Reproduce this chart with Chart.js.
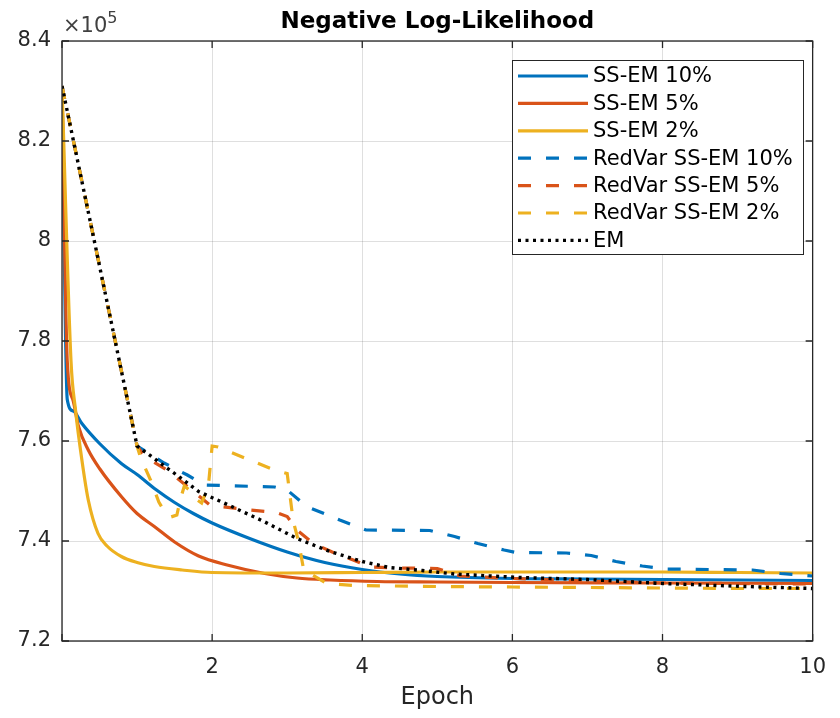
<!DOCTYPE html>
<html>
<head>
<meta charset="utf-8">
<script src="https://cdn.jsdelivr.net/npm/chart.js@4.4.1/dist/chart.umd.min.js"></script>
<style>
  body { margin: 0; background: #fff; }
  canvas { display: block; }
</style>
</head>
<body>
<canvas id="nllChart" width="840" height="718"></canvas>
<script>
// values are in units of 1e5 (the axis shows "x10^5")
const xTicks = [0, 2, 4, 6, 8, 10];
const yTicks = [7.2, 7.4, 7.6, 7.8, 8.0, 8.2, 8.4];

const ssEm10X = [0, 0.07, 0.15, 0.265, 0.5, 0.79, 1.0, 1.25, 1.5, 1.75, 2.0, 2.5, 3.0, 3.5, 4.0, 4.5, 5, 6, 7, 8, 9, 10];
const ssEm10Y = [8.31, 7.683, 7.66, 7.635, 7.595, 7.555, 7.533, 7.503, 7.477, 7.455, 7.436, 7.405, 7.378, 7.357, 7.343, 7.334, 7.329, 7.325, 7.324, 7.323, 7.322, 7.321];

const ssEm5X = [0, 0.07, 0.15, 0.22, 0.35, 0.5, 0.79, 1.0, 1.23, 1.5, 1.82, 2.2, 2.7, 3.13, 3.57, 4.2, 5, 6, 8, 10];
const ssEm5Y = [8.31, 7.76, 7.68, 7.629, 7.582, 7.545, 7.489, 7.455, 7.429, 7.398, 7.37, 7.352, 7.335, 7.326, 7.322, 7.319, 7.318, 7.317, 7.316, 7.315];

const ssEm2X = [0, 0.12, 0.18, 0.265, 0.35, 0.48, 0.6, 0.79, 1.0, 1.23, 1.6, 2.0, 3, 4, 5, 6, 7, 8, 9, 10];
const ssEm2Y = [8.31, 7.76, 7.662, 7.562, 7.482, 7.415, 7.39, 7.369, 7.357, 7.349, 7.342, 7.337, 7.336, 7.337, 7.338, 7.338, 7.338, 7.338, 7.337, 7.336];

const redVar10X = [0, 1, 1.36, 1.67, 1.9, 2.83, 3.0, 3.26, 3.7, 4.05, 4.9, 5.23, 5.54, 5.89, 6.05, 6.72, 7.05, 7.38, 7.73, 8.03, 9.2, 9.57, 10];
const redVar10Y = [8.31, 7.59, 7.556, 7.532, 7.512, 7.508, 7.502, 7.469, 7.442, 7.422, 7.421, 7.409, 7.395, 7.382, 7.377, 7.376, 7.371, 7.359, 7.35, 7.344, 7.342, 7.335, 7.33];

const redVar5X = [0, 1, 1.1, 1.4, 1.67, 1.97, 2.1, 2.5, 2.85, 3.0, 3.13, 3.35, 3.6, 3.88, 4.1, 4.5, 5.0, 5.3, 6, 7, 8, 9, 10];
const redVar5Y = [8.31, 7.59, 7.569, 7.542, 7.509, 7.472, 7.469, 7.462, 7.457, 7.449, 7.422, 7.395, 7.378, 7.362, 7.348, 7.346, 7.345, 7.33, 7.325, 7.32, 7.316, 7.315, 7.314];

const redVar2X = [0, 1.0, 1.05, 1.18, 1.29, 1.38, 1.45, 1.53, 1.58, 1.63, 1.69, 1.78, 1.86, 1.95, 2.0, 2.08, 2.5, 2.83, 3.0, 3.08, 3.15, 3.22, 3.53, 3.9, 5, 6, 7, 8, 9, 10];
const redVar2Y = [8.31, 7.59, 7.565, 7.522, 7.478, 7.455, 7.448, 7.452, 7.485, 7.51, 7.503, 7.484, 7.476, 7.51, 7.59, 7.588, 7.562, 7.542, 7.535, 7.44, 7.40, 7.342, 7.315, 7.311, 7.309, 7.308, 7.307, 7.306, 7.305, 7.305];

const emX = [0, 1, 1.5, 1.82, 2.26, 2.69, 3.13, 3.57, 4, 4.36, 4.8, 5.23, 6.1, 7, 8, 9.1, 10];
const emY = [8.31, 7.59, 7.535, 7.499, 7.469, 7.439, 7.405, 7.379, 7.359, 7.347, 7.341, 7.334, 7.327, 7.323, 7.315, 7.309, 7.305];

const BLUE = '#0072BD', ORANGE = '#D95319', YELLOW = '#EDB120';
const AXIS = '#262626';
const FONT = "'DejaVu Sans', sans-serif";

const pts = (xs, ys) => xs.map((x, i) => ({ x: x, y: ys[i] }));

const solid = (label, xs, ys, color, order) => ({
  label, data: pts(xs, ys), borderColor: color, borderWidth: 3.2,
  pointRadius: 0, cubicInterpolationMode: 'monotone', order
});
const dashed = (label, xs, ys, color, order) => ({
  label, data: pts(xs, ys), borderColor: color, borderWidth: 3.2,
  borderDash: [13, 15], pointRadius: 0, tension: 0, order
});

// MATLAB style frame: box, inward ticks, x10^5 multiplier and the legend
const matlabFrame = {
  id: 'matlabFrame',
  afterDraw(chart) {
    const { ctx, chartArea: a, scales } = chart;
    ctx.save();
    ctx.strokeStyle = AXIS;
    ctx.lineWidth = 1.3;
    ctx.strokeRect(a.left, a.top, a.right - a.left, a.bottom - a.top);
    ctx.beginPath();
    xTicks.forEach(v => {
      const px = scales.x.getPixelForValue(v);
      ctx.moveTo(px, a.bottom); ctx.lineTo(px, a.bottom - 7);
      ctx.moveTo(px, a.top); ctx.lineTo(px, a.top + 7);
    });
    yTicks.forEach(v => {
      const py = scales.y.getPixelForValue(v);
      ctx.moveTo(a.left, py); ctx.lineTo(a.left + 7, py);
      ctx.moveTo(a.right, py); ctx.lineTo(a.right - 7, py);
    });
    ctx.stroke();

    ctx.fillStyle = '#404040';
    ctx.textBaseline = 'alphabetic';
    ctx.textAlign = 'left';
    ctx.font = '21px ' + FONT;
    ctx.fillText('\u00d710', a.left + 1, 32);
    const w = ctx.measureText('\u00d710').width;
    ctx.font = '16px ' + FONT;
    ctx.fillText('5', a.left + 1 + w, 23);

    // legend box
    const bx = 512, by = 60, bw = 291, bh = 194;
    ctx.fillStyle = '#fff';
    ctx.fillRect(bx, by, bw, bh);
    ctx.strokeStyle = AXIS;
    ctx.lineWidth = 1;
    ctx.strokeRect(bx + 0.5, by + 0.5, bw, bh);
    const legendOrder = [6, 5, 4, 3, 2, 1, 0];
    ctx.font = '21px ' + FONT;
    ctx.textBaseline = 'middle';
    legendOrder.forEach((di, row) => {
      const ds = chart.data.datasets[di];
      const y = 76 + row * 27.4;
      ctx.beginPath();
      ctx.setLineDash(ds.borderDash || []);
      ctx.strokeStyle = ds.borderColor;
      ctx.lineWidth = ds.borderWidth;
      ctx.moveTo(518, y); ctx.lineTo(588, y);
      ctx.stroke();
      ctx.setLineDash([]);
      ctx.fillStyle = '#000';
      ctx.fillText(ds.label, 593, y + 1);
    });
    ctx.restore();
  }
};

new Chart(document.getElementById('nllChart'), {
  type: 'line',
  data: {
    datasets: [
      { label: 'EM', data: pts(emX, emY), borderColor: '#000', borderWidth: 3.4,
        borderDash: [3, 4.5], pointRadius: 0, tension: 0, order: 0 },
      dashed('RedVar SS-EM 2%', redVar2X, redVar2Y, YELLOW, 1),
      dashed('RedVar SS-EM 5%', redVar5X, redVar5Y, ORANGE, 2),
      dashed('RedVar SS-EM 10%', redVar10X, redVar10Y, BLUE, 3),
      solid('SS-EM 2%', ssEm2X, ssEm2Y, YELLOW, 4),
      solid('SS-EM 5%', ssEm5X, ssEm5Y, ORANGE, 5),
      solid('SS-EM 10%', ssEm10X, ssEm10Y, BLUE, 6)
    ]
  },
  options: {
    responsive: false,
    animation: false,
    layout: { padding: { left: 0, right: 17, top: 0, bottom: 0 } },
    plugins: {
      legend: { display: false },
      tooltip: { enabled: false },
      title: {
        display: true,
        text: 'Negative Log-Likelihood',
        color: '#000',
        fullSize: false,
        font: { family: FONT, size: 23, weight: 'bold', lineHeight: 1.2 },
        padding: { top: 8, bottom: 5.4 }
      }
    },
    scales: {
      x: {
        type: 'linear',
        min: 0, max: 10,
        afterFit: s => { s.height = 77; },
        afterBuildTicks: s => { s.ticks = xTicks.map(v => ({ value: v })); },
        grid: { color: 'rgba(38,38,38,0.15)', drawTicks: false },
        border: { display: false },
        ticks: {
          color: AXIS, padding: 14,
          font: { family: FONT, size: 21 },
          callback: v => (v === 0 ? '' : String(v))
        },
        title: {
          display: true, text: 'Epoch', color: AXIS,
          font: { family: FONT, size: 24, lineHeight: 1 },
          padding: { top: 0, bottom: 8 }
        }
      },
      y: {
        type: 'linear',
        min: 7.2, max: 8.4,
        afterFit: s => { s.width = 62; },
        afterBuildTicks: s => { s.ticks = yTicks.map(v => ({ value: v })); },
        grid: { color: 'rgba(38,38,38,0.15)', drawTicks: false },
        border: { display: false },
        ticks: {
          color: AXIS, padding: 11,
          font: { family: FONT, size: 21 },
          callback: v => {
            const r = Math.round(v * 10) / 10;
            return Number.isInteger(r) ? String(r) : r.toFixed(1);
          }
        }
      }
    }
  },
  plugins: [matlabFrame]
});
</script>
</body>
</html>
